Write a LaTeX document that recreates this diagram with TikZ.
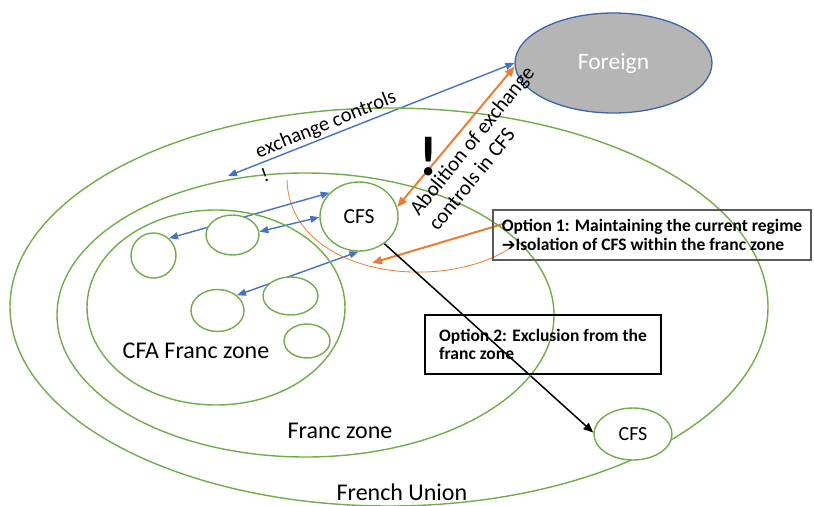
\documentclass[tikz,border=0pt]{standalone}
\usepackage{fontspec}
\setmainfont{Carlito}
\newfontfamily\symfont{DejaVu Sans}
\usetikzlibrary{shapes.geometric,arrows.meta}
\definecolor{zgreen}{RGB}{112,173,71}
\definecolor{zblue}{RGB}{68,114,196}
\definecolor{zorange}{RGB}{237,125,49}
\definecolor{fgray}{RGB}{180,181,180}
\definecolor{fborder}{RGB}{60,100,170}
\definecolor{boxgray}{RGB}{90,90,90}
\pgfdeclarelayer{bg}
\pgfsetlayers{bg,main}
\begin{document}
\begin{tikzpicture}[x=1pt,y=-1pt,
  zone/.style={draw=zgreen,line width=1.4pt,ellipse,inner sep=0pt},
  small/.style={zone,fill=white},
  barrow/.style={draw=zblue,line width=1.4pt,{Triangle[length=9pt,width=7pt]}-{Triangle[length=9pt,width=7pt]}},
  oarrow/.style={draw=zorange,line width=2pt,{Triangle[length=10pt,width=8pt]}-{Triangle[length=10pt,width=8pt]}},
  karrow/.style={draw=black,line width=1.5pt,-{Triangle[length=10pt,width=8pt]}},
  optbox/.style={draw,line width=1.5pt,rectangle,align=left,inner sep=0pt,font=\fontsize{17.5}{18.5}\selectfont\bfseries},
  biglabel/.style={font=\fontsize{24}{28}\selectfont,inner sep=0pt},
  ]
\useasboundingbox (0,0) rectangle (814,506);
% zones
\node[zone,minimum width=758pt,minimum height=398pt] (fu) at (389,307) {};
\node[zone,minimum width=497pt,minimum height=284pt] (fz) at (305.5,315) {};
\node[zone,minimum width=258pt,minimum height=195pt] (cfa) at (216,307.5) {};
% small circles
\node[small,minimum width=45pt,minimum height=45pt] (c1) at (153.5,255.5) {};
\node[small,minimum width=53pt,minimum height=40pt] (c2) at (232.5,235) {};
\node[small,minimum width=53pt,minimum height=42pt] (c3) at (217.5,310.5) {};
\node[small,minimum width=55pt,minimum height=38pt] (c4) at (290.5,296) {};
\node[small,minimum width=46pt,minimum height=34pt] (c5) at (307,341) {};
\node[small,minimum width=78pt,minimum height=69pt,font=\fontsize{21.5}{25}\selectfont] (cfs) at (359,216.5) {CFS};
\node[small,minimum width=78pt,minimum height=52pt,font=\fontsize{20}{24}\selectfont] (cfs2) at (633,434) {CFS};
\node[ellipse,draw=fborder,line width=1.3pt,fill=fgray,inner sep=0pt,minimum width=197pt,minimum height=100pt,text=white,font=\fontsize{23.5}{27}\selectfont] (foreign) at (613.5,63) {Foreign};
% boxes
\node[optbox,draw=boxgray,minimum width=318pt,minimum height=50pt] (opt1) at (652,235) {Option 1: Maintaining the current regime\\{\symfont\mdseries\fontsize{16.5}{18.5}\selectfont ➔}Isolation of CFS within the franc zone};
\node[optbox,draw=black,minimum width=236pt,minimum height=59pt] (opt2) at (543,344.5) {Option 2: Exclusion from the\\franc zone};
% labels
\node[biglabel] (lcfa) at (196,350.5) {CFA Franc zone};
\node[biglabel] (lfz) at (340,431) {Franc zone};
\node[biglabel] (lfu) at (402,492.5) {French Union};
\node[font=\fontsize{20.5}{24}\selectfont,inner sep=0pt,rotate=22] (lexc) at (326,125) {exchange controls};
\node[font=\fontsize{21}{24}\selectfont,inner sep=0pt,rotate=51,align=left] (labol) at (481,148) {Abolition of exchange\\controls in CFS};
\node[font=\fontsize{56}{60}\selectfont\bfseries,inner sep=0pt] (bang1) at (428.5,156.5) {!};
\node[font=\fontsize{20}{24}\selectfont,inner sep=0pt,rotate=20] (bang2) at (265,175) {!};
% connectors
\coordinate (exA) at (228,176);
\coordinate (o1h) at (372,263);
\begin{pgfonlayer}{bg}
\draw[barrow] (c1.48) -- (cfs.141);
\draw[barrow] (c2.7) -- (cfs.181);
\draw[barrow] (c3.38) -- (cfs.269);
\draw[barrow] (exA) -- (foreign.180);
\draw[oarrow] (foreign.182) -- (cfs.14);
\draw[draw=zorange,line width=2pt,-{Triangle[length=10pt,width=8pt]}] ([xshift=14pt,yshift=12pt]opt1.west) -- (o1h);
\draw[zorange,line width=0.8pt] (287,180) .. controls (290,275) and (440,295) .. (512,247);
\draw[karrow] (cfs.-47) -- (cfs2.178);
\end{pgfonlayer}
\end{tikzpicture}
\end{document}
